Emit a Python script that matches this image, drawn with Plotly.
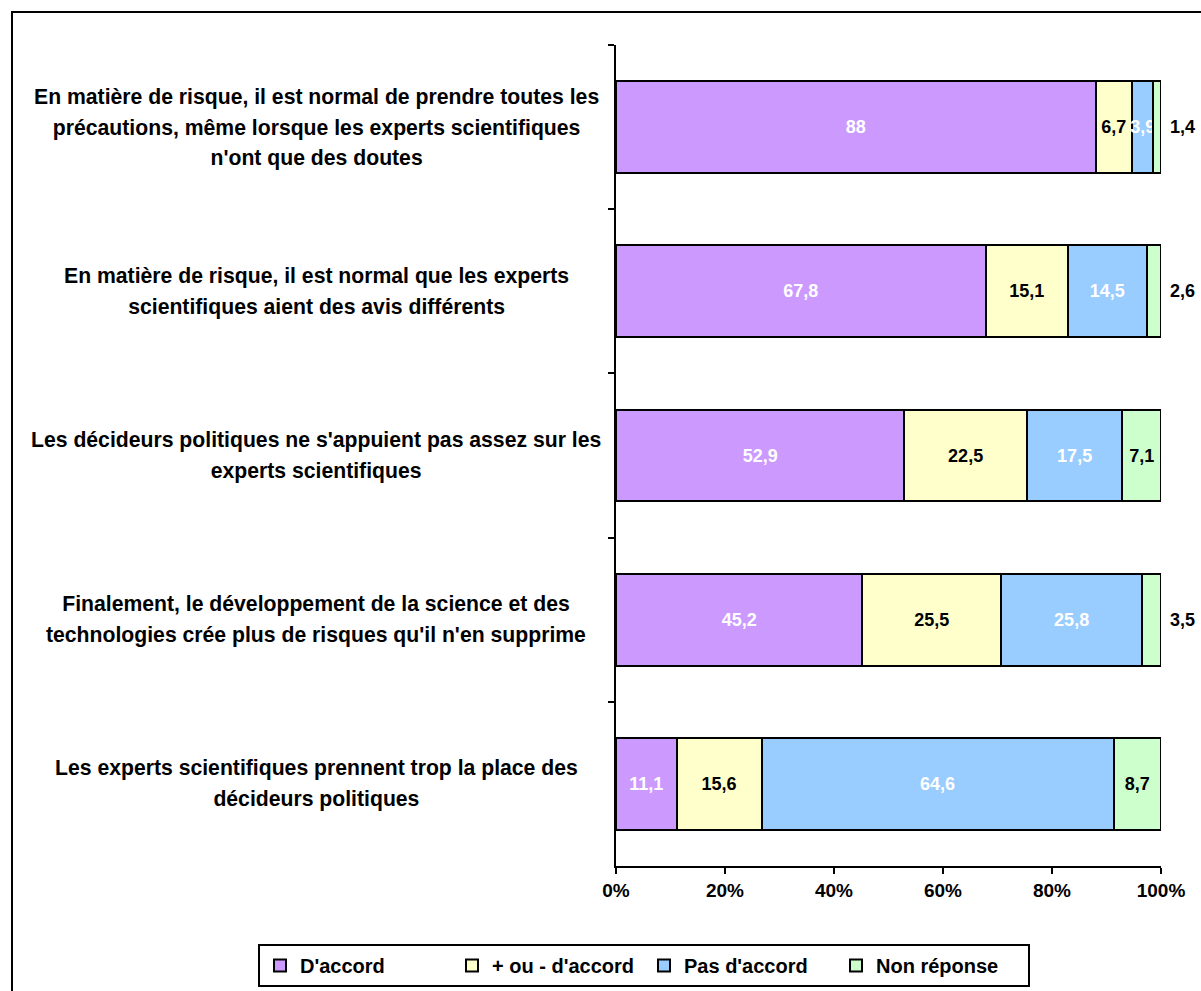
import plotly.graph_objects as go

categories = [
    "En matière de risque, il est normal de prendre toutes les<br>précautions, même lorsque les experts scientifiques<br>n'ont que des doutes",
    "En matière de risque, il est normal que les experts<br>scientifiques aient des avis différents",
    "Les décideurs politiques ne s'appuient pas assez sur les<br>experts scientifiques",
    "Finalement, le développement de la science et des<br>technologies crée plus de risques qu'il n'en supprime",
    "Les experts scientifiques prennent trop la place des<br>décideurs politiques",
]
series_names = ["D'accord", "+ ou - d'accord", "Pas d'accord", "Non réponse"]
d_accord = [88, 67.8, 52.9, 45.2, 11.1]
plus_ou_moins = [6.7, 15.1, 22.5, 25.5, 15.6]
pas_d_accord = [3.9, 14.5, 17.5, 25.8, 64.6]
non_reponse = [1.4, 2.6, 7.1, 3.5, 8.7]
outside_labels = [True, True, False, True, False]  # Non réponse label drawn right of bar
tick_vals = [0, 20, 40, 60, 80, 100]
tick_text = ["0%", "20%", "40%", "60%", "80%", "100%"]

colors = ["#CC99FF", "#FFFFCC", "#99CCFF", "#CCFFCC"]
text_colors = ["white", "black", "white", "black"]
FONT = "Arial, Liberation Sans, sans-serif"

OFF = 0  # page body margin removed via post_script
W, H = 1201 - OFF, 991 - OFF
L = 616 - OFF
T = 45 - OFF
R = W - (1161 - OFF)
B = H - (866 - OFF)
pw, ph = W - L - R, H - T - B


def fmt(v):
    return ("%g" % v).replace(".", ",")


def px_to_paper_x(sx):
    return (sx - OFF - L) / pw


def px_to_paper_y(sy):
    return 1 - (sy - OFF - T) / ph


ids = list(range(len(categories)))
fig = go.Figure()
all_series = [d_accord, plus_ou_moins, pas_d_accord, non_reponse]
for k, (name, vals) in enumerate(zip(series_names, all_series)):
    texts = []
    for i, v in enumerate(vals):
        if k == 3 and outside_labels[i]:
            texts.append("")
        else:
            texts.append(fmt(v))
    fig.add_trace(go.Bar(
        y=ids, x=vals, name=name, orientation="h",
        marker=dict(color=colors[k], line=dict(color="black", width=2)),
        text=texts, textposition="inside", insidetextanchor="middle",
        constraintext="none", textangle=0,
        textfont=dict(family=FONT, size=18, color=text_colors[k], weight="bold"),
        hoverinfo="skip",
    ))

annotations = []
for i in ids:
    if outside_labels[i]:
        total = round(d_accord[i] + plus_ou_moins[i] + pas_d_accord[i] + non_reponse[i], 6)
        annotations.append(dict(
            x=total, y=i, xref="x", yref="y", text=fmt(non_reponse[i]),
            showarrow=False, xanchor="left", xshift=7,
            font=dict(family=FONT, size=18, color="black", weight="bold"),
        ))
for i, c in enumerate(categories):
    lines = c.split("<br>")
    txt = "<br>".join('<span style="font-size:21.2px">%s</span>' % ln for ln in lines)
    annotations.append(dict(
        x=px_to_paper_x(316), y=i, xref="paper", yref="y", text=txt,
        showarrow=False, xanchor="center", align="center",
        font=dict(family=FONT, size=23.5, color="black", weight="bold"),
    ))

fig.update_layout(
    width=W, height=H,
    margin=dict(l=L, r=R, t=T, b=B, autoexpand=False),
    paper_bgcolor="white", plot_bgcolor="white",
    barmode="stack", bargap=0.44,
    uniformtext=dict(mode="show", minsize=18),
    showlegend=True,
    legend=dict(
        orientation="h", xref="paper", yref="paper",
        x=px_to_paper_x(258), xanchor="left",
        y=px_to_paper_y(944), yanchor="top",
        bordercolor="black", borderwidth=2,
        font=dict(family=FONT, size=20, color="black", weight="bold"),
        itemwidth=30, traceorder="normal",
        entrywidth=147, entrywidthmode="pixels",
    ),
    xaxis=dict(
        range=[0, 100], tickmode="array", tickvals=tick_vals, ticktext=tick_text,
        showgrid=False, zeroline=False,
        showline=True, linecolor="black", linewidth=2,
        ticks="outside", ticklen=6, tickwidth=2, tickcolor="black",
        tickfont=dict(family=FONT, size=19, color="black", weight="bold"),
    ),
    yaxis=dict(
        type="category", autorange="reversed",
        showticklabels=False, showgrid=False, zeroline=False,
        showline=True, linecolor="black", linewidth=2,
        ticks="outside", ticklen=6, tickwidth=2, tickcolor="black",
        tickson="boundaries",
    ),
    annotations=annotations,
    shapes=[dict(
        type="rect", xref="paper", yref="paper",
        x0=px_to_paper_x(12), x1=px_to_paper_x(1240),
        y0=px_to_paper_y(1030), y1=px_to_paper_y(12),
        line=dict(color="black", width=2), fillcolor="rgba(0,0,0,0)",
        layer="below",
    )],
)

fig.write_html(
    "out.html",
    config={"displayModeBar": False},
    post_script="document.body.style.margin='0';document.body.style.overflow='hidden';",
)
